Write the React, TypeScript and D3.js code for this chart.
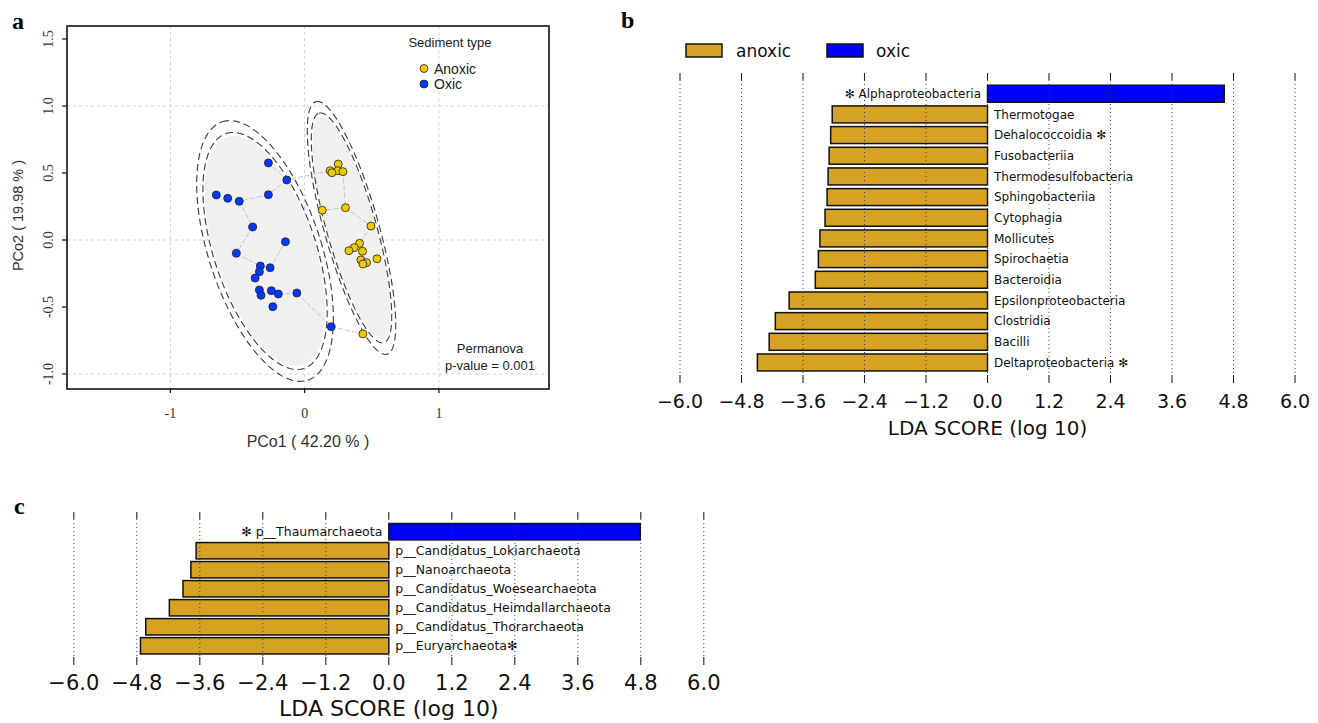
import React from 'react';
import * as d3 from 'd3';

const W = 1318;
const H = 723;

// ---- panel a: PCoA ----
const anoxicPts: [number, number][] = [
  [0.19, 0.517], [0.25, 0.567], [0.248, 0.517], [0.285, 0.51], [0.203, 0.502],
  [0.131, 0.222], [0.304, 0.241], [0.494, 0.104], [0.409, -0.025], [0.369, -0.057],
  [0.33, -0.08], [0.431, -0.084], [0.419, -0.149], [0.461, -0.169], [0.434, -0.179],
  [0.539, -0.14], [0.434, -0.701],
];
const oxicPts: [number, number][] = [
  [-0.27, 0.575], [-0.133, 0.448], [-0.658, 0.336], [-0.573, 0.311], [-0.487, 0.289],
  [-0.27, 0.338], [-0.387, 0.097], [-0.143, -0.013], [-0.509, -0.099], [-0.33, -0.194],
  [-0.257, -0.207], [-0.337, -0.237], [-0.369, -0.284], [-0.337, -0.373], [-0.325, -0.413],
  [-0.248, -0.378], [-0.196, -0.403], [-0.058, -0.396], [-0.237, -0.498], [0.198, -0.647],
];
const pcoXTicks = [-1, 0, 1];
const pcoYTicks = [-1.0, -0.5, 0.0, 0.5, 1.0, 1.5];
const pcoGrid = [-1, 0, 1];
// [cx, cy, semi-major, semi-minor, tilt deg]
const anoxicEllipse = [0.349, 0.09, 0.89, 0.185, 15.7];
const oxicEllipse = [-0.295, -0.082, 0.923, 0.38, 18.3];
const ellipseDashLevels = [1.0, 1.1];
const ellipseFillLevel = 0.97;

// ---- panel b: classes ----
const classNames = [
  '✻ Alphaproteobacteria', 'Thermotogae', 'Dehalococcoidia ✻', 'Fusobacteriia',
  'Thermodesulfobacteria', 'Sphingobacteriia', 'Cytophagia', 'Mollicutes',
  'Spirochaetia', 'Bacteroidia', 'Epsilonproteobacteria', 'Clostridia', 'Bacilli',
  'Deltaproteobacteria ✻',
];
const classScores = [4.62, -3.03, -3.06, -3.09, -3.11, -3.13, -3.17, -3.27, -3.3, -3.36, -3.87, -4.14, -4.26, -4.49];

// ---- panel c: phyla ----
const phylumNames = [
  '✻ p__Thaumarchaeota', 'p__Candidatus_Lokiarchaeota', 'p__Nanoarchaeota',
  'p__Candidatus_Woesearchaeota', 'p__Candidatus_Heimdallarchaeota',
  'p__Candidatus_Thorarchaeota', 'p__Euryarchaeota✻',
];
const phylumScores = [4.79, -3.67, -3.77, -3.92, -4.18, -4.63, -4.73];

const ldaTicks = [-6.0, -4.8, -3.6, -2.4, -1.2, 0.0, 1.2, 2.4, 3.6, 4.8, 6.0];

const ANOXIC_DOT = '#F0C800';
const OXIC_DOT = '#0038FF';
const GOLD = '#D5A224';
const BLUE = '#0000FF';
const SANS = 'Liberation Sans, Arial, sans-serif';
const SERIF = 'Liberation Serif, Times New Roman, serif';
const DJ = 'DejaVu Sans, sans-serif';

const fmtTick = (v: number) => (v < 0 ? '\u2212' : '') + Math.abs(v).toFixed(1);

// minimum spanning tree (Prim) over all points
function mst(pts: [number, number][]) {
  const n = pts.length;
  const inTree = new Array(n).fill(false);
  const dist = new Array(n).fill(Infinity);
  const parent = new Array(n).fill(-1);
  dist[0] = 0;
  const edges: [number, number][] = [];
  for (let k = 0; k < n; k++) {
    let u = -1;
    for (let i = 0; i < n; i++) if (!inTree[i] && (u < 0 || dist[i] < dist[u])) u = i;
    inTree[u] = true;
    if (parent[u] >= 0) edges.push([parent[u], u]);
    for (let v = 0; v < n; v++) {
      if (inTree[v]) continue;
      const d = Math.hypot(pts[u][0] - pts[v][0], pts[u][1] - pts[v][1]);
      if (d < dist[v]) { dist[v] = d; parent[v] = u; }
    }
  }
  return edges;
}

function PcoaPanel() {
  const x = d3.scaleLinear().domain([-1.77, 1.82]).range([67, 549]);
  const y = d3.scaleLinear().domain([-1.112, 1.597]).range([389, 26]);
  const all = [...anoxicPts, ...oxicPts];
  const edges = mst(all);
  const line = d3.line<[number, number]>().x((d) => x(d[0])).y((d) => y(d[1])).curve(d3.curveLinearClosed);

  const ellipsePath = (e: number[], k: number) => {
    const [cx, cy, a, b, deg] = e;
    const t = (deg * Math.PI) / 180;
    const pts: [number, number][] = d3.range(0, 2 * Math.PI, Math.PI / 90).map((s) => [
      cx + k * a * Math.cos(s) * -Math.sin(t) + k * b * Math.sin(s) * Math.cos(t),
      cy + k * a * Math.cos(s) * Math.cos(t) + k * b * Math.sin(s) * Math.sin(t),
    ]);
    return line(pts) || '';
  };

  const [x0, x1] = x.range();
  const [yb, yt] = y.range();

  return (
    <g>
      <text x={12} y={29} fontFamily={SERIF} fontWeight="bold" fontSize={24}>a</text>
      {pcoGrid.map((g) => (
        <line key={'gx' + g} x1={x(g)} x2={x(g)} y1={yt} y2={yb} stroke="#d0d0d0" strokeDasharray="3,3" />
      ))}
      {pcoGrid.map((g) => (
        <line key={'gy' + g} x1={x0} x2={x1} y1={y(g)} y2={y(g)} stroke="#d0d0d0" strokeDasharray="3,3" />
      ))}
      {[oxicEllipse, anoxicEllipse].map((e, i) => (
        <path key={'f' + i} d={ellipsePath(e, ellipseFillLevel)} fill="#f0f0f0" stroke="none" />
      ))}
      {[oxicEllipse, anoxicEllipse].map((e, i) =>
        ellipseDashLevels.map((k) => (
          <path key={'d' + i + k} d={ellipsePath(e, k)} fill="none" stroke="#3a3a3a" strokeWidth={1.1} strokeDasharray="7,4" />
        ))
      )}
      {edges.map(([i, j], k) => (
        <line key={'e' + k} x1={x(all[i][0])} y1={y(all[i][1])} x2={x(all[j][0])} y2={y(all[j][1])}
          stroke="#c4c4c4" strokeWidth={1} strokeDasharray="5,2" />
      ))}
      {anoxicPts.map((p, i) => (
        <circle key={'a' + i} cx={x(p[0])} cy={y(p[1])} r={4} fill={ANOXIC_DOT} stroke="#222" strokeWidth={0.8} />
      ))}
      {oxicPts.map((p, i) => (
        <circle key={'o' + i} cx={x(p[0])} cy={y(p[1])} r={4} fill={OXIC_DOT} stroke="#222" strokeWidth={0.8} />
      ))}
      <rect x={x0} y={yt} width={x1 - x0} height={yb - yt} fill="none" stroke="#111" strokeWidth={1.6} />
      {pcoYTicks.map((t) => (
        <g key={'yt' + t}>
          <line x1={x0} x2={x0 - 5} y1={y(t)} y2={y(t)} stroke="#111" strokeWidth={1.2} />
          <text transform={`translate(53,${y(t)}) rotate(-90)`} textAnchor="middle" fontFamily={SERIF} fontSize={14} fill="#333">
            {t.toFixed(1)}
          </text>
        </g>
      ))}
      {pcoXTicks.map((t) => (
        <g key={'xt' + t}>
          <line x1={x(t)} x2={x(t)} y1={yb} y2={yb + 4} stroke="#111" strokeWidth={1.2} />
          <text x={x(t)} y={418} textAnchor="middle" fontFamily={SERIF} fontSize={14} fill="#333">{t}</text>
        </g>
      ))}
      <text x={308} y={447} textAnchor="middle" fontFamily={SANS} fontSize={16} fill="#333">PCo1 ( 42.20 % )</text>
      <text transform={`translate(23,${(yt + yb) / 2 + 8}) rotate(-90)`} textAnchor="middle" fontFamily={SANS} fontSize={14.5} fill="#333">
        PCo2 ( 19.98 % )
      </text>
      <text x={450} y={47} textAnchor="middle" fontFamily={SANS} fontSize={13} fill="#222">Sediment type</text>
      <circle cx={424} cy={68.5} r={4} fill={ANOXIC_DOT} stroke="#222" strokeWidth={0.8} />
      <text x={434} y={73.5} fontFamily={SANS} fontSize={14} fill="#222">Anoxic</text>
      <circle cx={424} cy={84} r={4} fill={OXIC_DOT} stroke="#222" strokeWidth={0.8} />
      <text x={434} y={89} fontFamily={SANS} fontSize={14} fill="#222">Oxic</text>
      <text x={490} y={353} textAnchor="middle" fontFamily={SANS} fontSize={13} fill="#222">Permanova</text>
      <text x={490} y={370} textAnchor="middle" fontFamily={SANS} fontSize={13} fill="#222">p-value = 0.001</text>
    </g>
  );
}

interface LdaProps {
  names: string[];
  scores: number[];
  xRange: [number, number];
  yRange: [number, number];
  pad: number;
  gridTop: number;
  gridBottom: number;
  tickFont: number;
  tickBase: number;
  titleBase: number;
  labelFont: number;
}

function LdaPanel(p: LdaProps) {
  const x = d3.scaleLinear().domain([-6, 6]).range(p.xRange);
  const y = d3.scaleBand().domain(p.names).range(p.yRange).paddingInner(p.pad).paddingOuter(p.pad / 2);
  const z = x(0);
  return (
    <g>
      {p.names.map((n, i) => {
        const v = p.scores[i];
        return (
          <rect key={'b' + n} x={Math.min(z, x(v))} y={y(n)} width={Math.abs(x(v) - z)} height={y.bandwidth()}
            fill={v > 0 ? BLUE : GOLD} stroke="#111" strokeWidth={1.5} />
        );
      })}
      {ldaTicks.map((t) => (
        <g key={'t' + t}>
          <line x1={x(t)} x2={x(t)} y1={p.gridTop} y2={p.gridBottom} stroke="#333" strokeWidth={0.9} strokeDasharray="1,3" />
          <line x1={x(t)} x2={x(t)} y1={p.gridTop - 7} y2={p.gridTop} stroke="#222" strokeWidth={1.1} />
          <line x1={x(t)} x2={x(t)} y1={p.gridBottom} y2={p.gridBottom + 8} stroke="#222" strokeWidth={1.1} />
          <text x={x(t)} y={p.tickBase} textAnchor="middle" fontFamily={DJ} fontSize={p.tickFont} fill="#111">{fmtTick(t)}</text>
        </g>
      ))}
      {p.names.map((n, i) => {
        const v = p.scores[i];
        return (
          <text key={'l' + n} x={v < 0 ? z + 6.5 : z - 6.5} y={(y(n) || 0) + y.bandwidth() / 2} dy="0.36em"
            textAnchor={v < 0 ? 'start' : 'end'} fontFamily={DJ} fontSize={p.labelFont} fill="#111">
            {n}
          </text>
        );
      })}
      <text x={z} y={p.titleBase} textAnchor="middle" fontFamily={DJ} fontSize={p.tickFont + 1} fill="#111">LDA SCORE (log 10)</text>
    </g>
  );
}

export default function App() {
  return (
    <svg width={W} height={H} style={{ position: 'absolute', left: 0, top: 0, background: '#fff' }}>
      <rect width={W} height={H} fill="#fff" />
      <PcoaPanel />
      <text x={621} y={28} fontFamily={SERIF} fontWeight="bold" fontSize={24}>b</text>
      <rect x={686} y={44} width={36} height={13} fill={GOLD} stroke="#111" strokeWidth={1.5} />
      <text x={736} y={57} fontFamily={DJ} fontSize={17} fill="#111">anoxic</text>
      <rect x={827} y={44} width={36} height={13} fill={BLUE} stroke="#111" strokeWidth={1.5} />
      <text x={876} y={57} fontFamily={DJ} fontSize={17} fill="#111">oxic</text>
      <LdaPanel names={classNames} scores={classScores} xRange={[680, 1295]} yRange={[83.4, 372.8]} pad={0.18}
        gridTop={80} gridBottom={375} tickFont={19} tickBase={408} titleBase={435} labelFont={12} />
      <text x={14} y={514} fontFamily={SERIF} fontWeight="bold" fontSize={24}>c</text>
      <LdaPanel names={phylumNames} scores={phylumScores} xRange={[73.8, 703.8]} yRange={[522.2, 655.3]} pad={0.14}
        gridTop={519} gridBottom={657} tickFont={21} tickBase={690} titleBase={716} labelFont={12.5} />
    </svg>
  );
}
